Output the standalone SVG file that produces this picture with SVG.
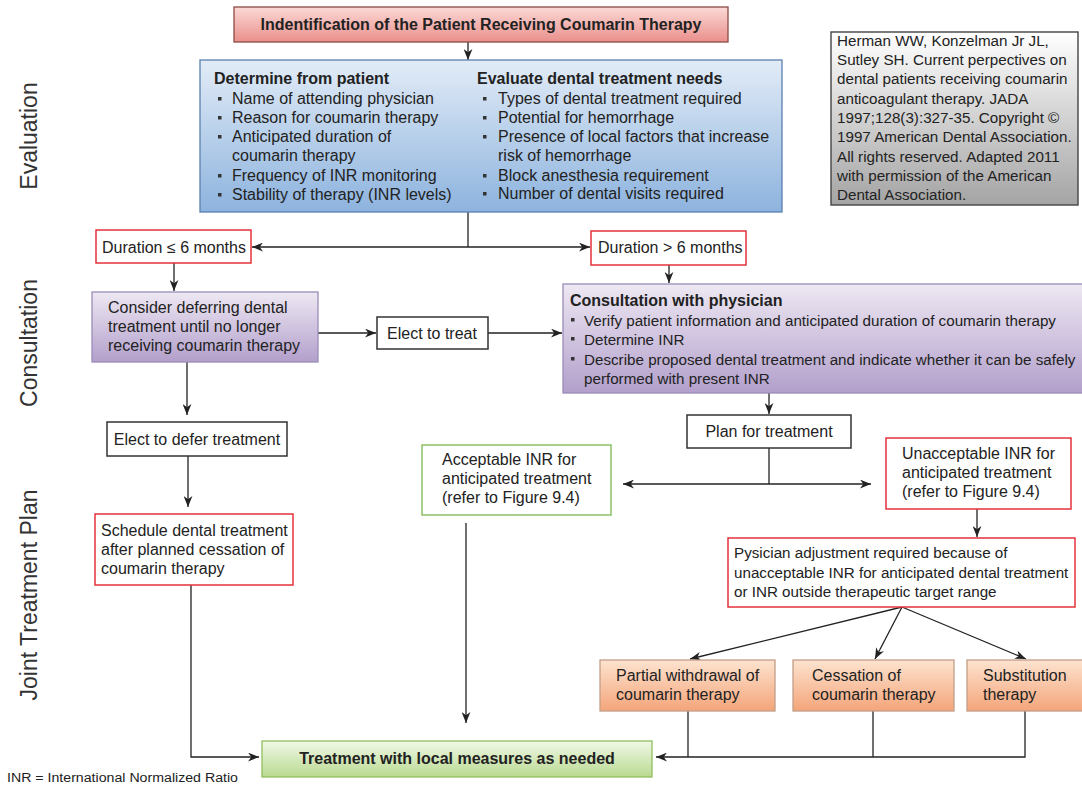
<svg xmlns="http://www.w3.org/2000/svg" width="1082" height="786" viewBox="0 0 1082 786">
<defs>
<linearGradient id="gPink" x1="0" y1="0" x2="0" y2="1"><stop offset="0" stop-color="#fbd9d6"/><stop offset="1" stop-color="#ea8f8b"/></linearGradient>
<linearGradient id="gBlue" x1="0" y1="0" x2="0" y2="1"><stop offset="0" stop-color="#e2ecf7"/><stop offset="1" stop-color="#8db3de"/></linearGradient>
<linearGradient id="gPurple" x1="0" y1="0" x2="0" y2="1"><stop offset="0" stop-color="#eee8f3"/><stop offset="1" stop-color="#b29fcb"/></linearGradient>
<linearGradient id="gOrange" x1="0" y1="0" x2="0" y2="1"><stop offset="0" stop-color="#fde3cf"/><stop offset="1" stop-color="#f4a57a"/></linearGradient>
<linearGradient id="gGreen" x1="0" y1="0" x2="0" y2="1"><stop offset="0" stop-color="#f1f8e6"/><stop offset="1" stop-color="#b9da91"/></linearGradient>
<linearGradient id="gGray" x1="0" y1="0" x2="0" y2="1"><stop offset="0" stop-color="#ffffff"/><stop offset="1" stop-color="#a4a4a4"/></linearGradient>
<marker id="arr" viewBox="0 0 10 8" refX="10" refY="4" markerWidth="11" markerHeight="9" markerUnits="userSpaceOnUse" orient="auto-start-reverse"><path d="M0,0 L10,4 L0,8 L3,4 z" fill="#222"/></marker>
</defs>
<style>
text{font-family:"Liberation Sans",Arial,sans-serif;fill:#222;}
.t{font-size:16px;}
.s{font-size:15.2px;}
.b{font-weight:bold;}
.side{font-size:23px;fill:#333;}
.line{stroke:#222;stroke-width:1.3;fill:none;}
.arr{marker-end:url(#arr);}
.red{fill:#fff;stroke:#e5323c;stroke-width:1.5;}
.blk{fill:#fff;stroke:#333;stroke-width:1.5;}
.grn{fill:#fff;stroke:#8dc068;stroke-width:1.5;}
.bul{fill:#333;}
</style>
<rect width="1082" height="786" fill="#fff"/>

<g id="side-labels">
<text class="side" transform="translate(37,136) rotate(-90)" text-anchor="middle">Evaluation</text>
<text class="side" transform="translate(37,343) rotate(-90)" text-anchor="middle">Consultation</text>
<text class="side" transform="translate(37,595) rotate(-90)" text-anchor="middle">Joint Treatment Plan</text>
</g>

<g id="connectors">
<path class="line arr" d="M468,42 V60"/>
<path class="line" d="M468,212 V247"/>
<path class="line" d="M252,247 H590" marker-start="url(#arr)" marker-end="url(#arr)"/>
<path class="line arr" d="M174,263 V291"/>
<path class="line arr" d="M669,265 V283"/>
<path class="line arr" d="M318,333 H376"/>
<path class="line arr" d="M488,333 H562"/>
<path class="line arr" d="M187,362 V415"/>
<path class="line arr" d="M188,456 V507"/>
<path class="line arr" d="M769,393 V414"/>
<path class="line" d="M769,448 V484"/>
<path class="line" d="M623,484 H871" marker-start="url(#arr)" marker-end="url(#arr)"/>
<path class="line arr" d="M977,509 V537"/>
<path class="line arr" d="M902,607 L690,659"/>
<path class="line arr" d="M902,607 L875,659"/>
<path class="line arr" d="M902,607 L1026,659"/>
<path class="line arr" d="M466,523 V723"/>
<path class="line arr" d="M191,585 V757 H259"/>
<path class="line" d="M688,711 V757"/>
<path class="line" d="M873,711 V757"/>
<path class="line arr" d="M1025,711 V757 H656"/>
</g>

<g id="n-title">
<rect x="234" y="7" width="494" height="35" fill="url(#gPink)" stroke="#8b4a45" stroke-width="1.3"/>
<text class="t b" x="481" y="30" text-anchor="middle">Indentification of the Patient Receiving Coumarin Therapy</text>
</g>

<g id="n-evaluation">
<rect x="200" y="60" width="582" height="152" fill="url(#gBlue)" stroke="#5b80b0" stroke-width="1.3"/>
<text class="t b" x="214" y="84">Determine from patient</text>
<rect class="bul" x="218" y="97" width="3.5" height="3.5"/><text class="t" x="232" y="104">Name of attending physician</text>
<rect class="bul" x="218" y="116" width="3.5" height="3.5"/><text class="t" x="232" y="123">Reason for coumarin therapy</text>
<rect class="bul" x="218" y="135" width="3.5" height="3.5"/><text class="t" x="232" y="142">Anticipated duration of</text>
<text class="t" x="232" y="161">coumarin therapy</text>
<rect class="bul" x="218" y="174" width="3.5" height="3.5"/><text class="t" x="232" y="181">Frequency of INR monitoring</text>
<rect class="bul" x="218" y="193" width="3.5" height="3.5"/><text class="t" x="232" y="200">Stability of therapy (INR levels)</text>
<text class="t b" x="477" y="84">Evaluate dental treatment needs</text>
<rect class="bul" x="483" y="97" width="3.5" height="3.5"/><text class="t" x="498" y="104">Types of dental treatment required</text>
<rect class="bul" x="483" y="116" width="3.5" height="3.5"/><text class="t" x="498" y="123">Potential for hemorrhage</text>
<rect class="bul" x="483" y="135" width="3.5" height="3.5"/><text class="t" x="498" y="142">Presence of local factors that increase</text>
<text class="t" x="498" y="161">risk of hemorrhage</text>
<rect class="bul" x="483" y="174" width="3.5" height="3.5"/><text class="t" x="498" y="181">Block anesthesia requirement</text>
<rect class="bul" x="483" y="192" width="3.5" height="3.5"/><text class="t" x="498" y="199">Number of dental visits required</text>
</g>

<g id="n-reference">
<rect x="831" y="32" width="247" height="173" fill="url(#gGray)" stroke="#444" stroke-width="1.4"/>
<text class="s" x="837" y="46">Herman WW, Konzelman Jr JL,</text>
<text class="s" x="837" y="65">Sutley SH. Current perpectives on</text>
<text class="s" x="837" y="84">dental patients receiving coumarin</text>
<text class="s" x="837" y="104">anticoagulant therapy. JADA</text>
<text class="s" x="837" y="123">1997;128(3):327-35. Copyright ©</text>
<text class="s" x="837" y="142">1997 American Dental Association.</text>
<text class="s" x="837" y="162">All rights reserved. Adapted 2011</text>
<text class="s" x="837" y="181">with permission of the American</text>
<text class="s" x="837" y="200">Dental Association.</text>
</g>

<g id="n-dur-short">
<rect class="red" x="96" y="230" width="155" height="33"/>
<text class="t" x="102" y="253">Duration ≤ 6 months</text>
</g>

<g id="n-dur-long">
<rect class="red" x="591" y="231" width="155" height="34"/>
<text class="t" x="598" y="253">Duration &gt; 6 months</text>
</g>

<g id="n-consider">
<rect x="92" y="292" width="226" height="70" fill="url(#gPurple)" stroke="#9a8db8" stroke-width="1.3"/>
<text class="t" x="108" y="313">Consider deferring dental</text>
<text class="t" x="108" y="332">treatment until no longer</text>
<text class="t" x="108" y="351">receiving coumarin therapy</text>
</g>

<g id="n-elect-treat">
<rect class="blk" x="377" y="317" width="111" height="32"/>
<text class="t" x="432" y="339" text-anchor="middle">Elect to treat</text>
</g>

<g id="n-consultation">
<rect x="563" y="284" width="520" height="109" fill="url(#gPurple)" stroke="#9a8db8" stroke-width="1.3"/>
<text class="t b" x="570" y="306">Consultation with physician</text>
<rect class="bul" x="571" y="318" width="3.5" height="3.5"/><text class="s" x="584" y="326">Verify patient information and anticipated duration of coumarin therapy</text>
<rect class="bul" x="571" y="337" width="3.5" height="3.5"/><text class="s" x="584" y="345">Determine INR</text>
<rect class="bul" x="571" y="357" width="3.5" height="3.5"/><text class="s" x="584" y="365">Describe proposed dental treatment and indicate whether it can be safely</text>
<text class="s" x="584" y="384">performed with present INR</text>
</g>

<g id="n-elect-defer">
<rect class="blk" x="107" y="422" width="180" height="34"/>
<text class="t" x="197" y="445" text-anchor="middle">Elect to defer treatment</text>
</g>

<g id="n-plan">
<rect class="blk" x="687" y="415" width="164" height="33"/>
<text class="t" x="769" y="437" text-anchor="middle">Plan for treatment</text>
</g>

<g id="n-acceptable">
<rect class="grn" x="422" y="445" width="189" height="70"/>
<text class="t" x="442" y="465">Acceptable INR for</text>
<text class="t" x="442" y="484">anticipated treatment</text>
<text class="t" x="442" y="503">(refer to Figure 9.4)</text>
</g>

<g id="n-unacceptable">
<rect class="red" x="886" y="438" width="185" height="71"/>
<text class="t" x="902" y="459">Unacceptable INR for</text>
<text class="t" x="902" y="478">anticipated treatment</text>
<text class="t" x="902" y="497">(refer to Figure 9.4)</text>
</g>

<g id="n-schedule">
<rect class="red" x="95" y="514" width="198" height="71"/>
<text class="t" x="101" y="536">Schedule dental treatment</text>
<text class="t" x="101" y="555">after planned cessation of</text>
<text class="t" x="101" y="574">coumarin therapy</text>
</g>

<g id="n-pysician">
<rect class="red" x="728" y="538" width="347" height="69"/>
<text class="s" x="734" y="558">Pysician adjustment required because of</text>
<text class="s" x="734" y="578">unacceptable INR for anticipated dental treatment</text>
<text class="s" x="734" y="597">or INR outside therapeutic target range</text>
</g>

<g id="n-partial">
<rect x="600" y="660" width="175" height="51" fill="url(#gOrange)" stroke="#c29e88" stroke-width="1.3"/>
<text class="t" x="616" y="681">Partial withdrawal of</text>
<text class="t" x="616" y="700">coumarin therapy</text>
</g>

<g id="n-cessation">
<rect x="793" y="660" width="161" height="51" fill="url(#gOrange)" stroke="#c29e88" stroke-width="1.3"/>
<text class="t" x="812" y="681">Cessation of</text>
<text class="t" x="812" y="700">coumarin therapy</text>
</g>

<g id="n-substitution">
<rect x="967" y="660" width="120" height="51" fill="url(#gOrange)" stroke="#c29e88" stroke-width="1.3"/>
<text class="t" x="983" y="681">Substitution</text>
<text class="t" x="983" y="700">therapy</text>
</g>

<g id="n-local">
<rect x="262" y="741" width="390" height="36" fill="url(#gGreen)" stroke="#8fbf5e" stroke-width="1.3"/>
<text class="t b" x="457" y="764" text-anchor="middle">Treatment with local measures as needed</text>
</g>

<g id="footer">
<text x="7" y="782" style="font-size:12.5px" textLength="231" lengthAdjust="spacingAndGlyphs">INR = International Normalized Ratio</text>
</g>
</svg>
